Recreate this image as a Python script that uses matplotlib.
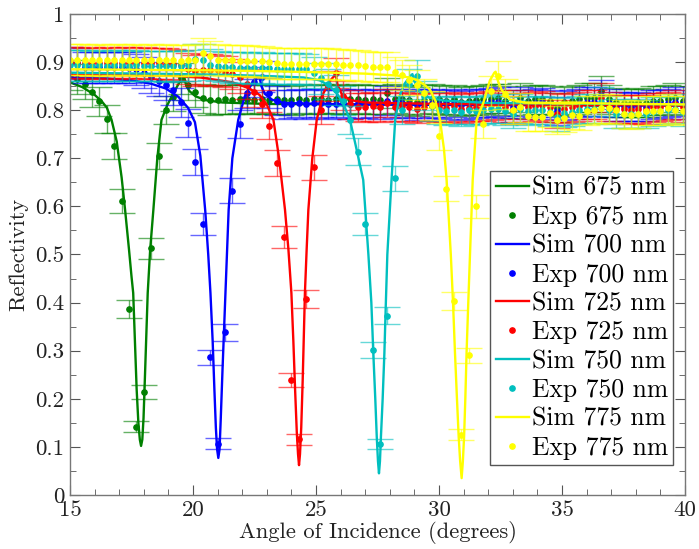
import numpy as np
import matplotlib
matplotlib.use('Agg')
import matplotlib.pyplot as plt
from matplotlib.ticker import MultipleLocator, FuncFormatter

plt.rcParams['font.family'] = 'serif'
plt.rcParams['font.serif'] = ['cmr10']
plt.rcParams['mathtext.fontset'] = 'cm'
plt.rcParams['axes.formatter.use_mathtext'] = True

# Measured angles (deg), one sample every 0.3 deg
angle = np.round(np.arange(15.0, 40.0, 0.3), 1)

wavelengths = [675, 700, 725, 750, 775]
colors = ['#008000', '#0000ff', '#ff0000', '#00bfbf', '#ffff00']

# Experimental reflectivity
exp_675 = [.873, .864, .854, .838, .819, .781, .726, .611, .386, .142, .214, .513,
           .705, .800, .828, .866, .852, .838, .825, .821, .822, .823, .822, .824,
           .823, .822, .824, .822, .823, .822, .821, .824, .822, .823, .824, .822,
           .824, .822, .823, .824, .822, .823, .822, .836, .824, .823, .821, .818,
           .822, .824, .823, .820, .823, .818, .820, .821, .823, .824, .825, .820,
           .813, .826, .820, .823, .823, .820, .805, .818, .820, .823, .826, .826,
           .840, .823, .816, .815, .815, .816, .815, .820, .820, .823, .826, .820]
exp_700 = [.900, .898, .889, .889, .889, .889, .889, .889, .888, .885, .878, .868,
           .861, .852, .842, .816, .774, .693, .563, .286, .107, .338, .633, .771,
           .835, .858, .870, .836, .820, .812, .813, .815, .812, .814, .815, .812,
           .813, .815, .812, .814, .813, .815, .812, .820, .814, .815, .813, .810,
           .814, .815, .813, .812, .815, .810, .812, .814, .815, .816, .818, .813,
           .806, .818, .812, .815, .816, .812, .798, .810, .812, .815, .818, .818,
           .832, .815, .808, .808, .807, .808, .807, .812, .813, .815, .818, .812]
exp_725 = [.899, .899, .898, .899, .898, .899, .898, .899, .899, .898, .899, .898,
           .898, .897, .896, .893, .886, .882, .884, .884, .883, .880, .875, .868,
           .855, .838, .813, .768, .690, .536, .239, .116, .407, .681, .800, .850,
           .877, .830, .812, .807, .806, .808, .806, .815, .807, .808, .806, .803,
           .807, .808, .806, .805, .808, .803, .805, .807, .808, .810, .812, .806,
           .800, .812, .806, .808, .810, .806, .792, .803, .806, .808, .812, .812,
           .826, .808, .802, .802, .801, .802, .801, .806, .807, .809, .812, .806]
exp_750 = [.893, .893, .893, .892, .893, .892, .893, .893, .892, .893, .892, .892,
           .892, .891, .892, .892, .893, .906, .905, .895, .892, .890, .889, .888,
           .888, .887, .888, .887, .886, .886, .886, .886, .885, .878, .866, .855,
           .842, .820, .780, .714, .563, .301, .106, .373, .658, .800, .855, .872,
           .830, .808, .800, .798, .800, .797, .800, .798, .800, .802, .803, .798,
           .792, .803, .798, .800, .800, .797, .785, .795, .797, .800, .803, .803,
           .818, .800, .793, .793, .792, .793, .792, .797, .798, .800, .803, .797]
exp_775 = [.905, .905, .905, .904, .905, .904, .905, .905, .904, .905, .904, .905,
           .904, .905, .904, .903, .904, .905, .918, .912, .905, .904, .904, .903,
           .903, .902, .902, .900, .898, .897, .897, .897, .897, .897, .897, .897,
           .896, .895, .894, .893, .892, .890, .890, .890, .879, .873, .863, .852,
           .835, .810, .746, .637, .403, .125, .290, .600, .771, .840, .871, .834,
           .800, .806, .787, .785, .785, .794, .780, .783, .790, .788, .799, .800,
           .804, .804, .800, .792, .790, .792, .799, .799, .799, .804, .800, .799]

# Simulated curves
sim_675_x = [15.0, 15.5, 16.0, 16.3, 16.5, 16.69, 16.9, 17.1, 17.24, 17.4, 17.5, 17.57,
             17.64, 17.71, 17.78, 17.84, 17.89, 17.94, 17.99, 18.05, 18.16, 18.26, 18.39,
             18.55, 18.72, 18.95, 19.2, 19.45, 19.6, 19.64, 19.72, 19.85, 20.1, 20.5,
             21.2, 23.0, 30.0, 40.0]
sim_675_y = [.858, .848, .832, .818, .805, .78, .735, .66, .593, .51, .455, .42,
             .32, .22, .15, .115, .102, .115, .16, .25, .42, .51, .593,
             .70, .78, .81, .835, .858, .868, .87, .852, .84, .829, .821,
             .816, .813, .811, .81]
sim_700_x = [15.0, 16.5, 17.5, 18.3, 18.9, 19.4, 19.8, 20.08, 20.3, 20.5, 20.62, 20.71,
             20.8, 20.87, 20.93, 20.98, 21.03, 21.08, 21.13, 21.2, 21.32, 21.45, 21.6,
             21.84, 22.1, 22.4, 22.65, 22.7, 22.78, 22.92, 23.2, 23.7, 26.0, 40.0]
sim_700_y = [.868, .866, .862, .855, .845, .828, .805, .775, .705, .59, .50, .42,
             .32, .22, .14, .095, .077, .095, .16, .26, .42, .593, .70,
             .78, .828, .856, .868, .87, .85, .834, .822, .815, .812, .81]
sim_725_x = [15.0, 17.0, 19.0, 20.3, 21.6, 22.3, 22.7, 23.0, 23.27, 23.5, 23.74, 23.88,
             24.0, 24.08, 24.15, 24.22, 24.27, 24.31, 24.35, 24.4, 24.46, 24.55, 24.62,
             24.69, 24.85, 25.03, 25.3, 25.55, 25.76, 25.8, 25.88, 26.05, 26.4, 27.0,
             30.0, 40.0]
sim_725_y = [.873, .873, .872, .868, .858, .845, .832, .812, .78, .70, .593, .51,
             .42, .32, .22, .13, .085, .062, .085, .14, .24, .42, .51,
             .593, .70, .78, .835, .86, .872, .874, .852, .833, .821, .816,
             .813, .81]
sim_750_x = [15.0, 18.0, 21.0, 23.0, 24.5, 25.16, 25.5, 25.84, 26.1, 26.38, 26.6, 26.92,
             27.13, 27.25, 27.33, 27.41, 27.47, 27.52, 27.56, 27.6, 27.64, 27.71, 27.78,
             27.84, 27.9, 28.07, 28.22, 28.4, 28.6, 28.85, 28.92, 29.0, 29.23, 29.6,
             30.2, 32.0, 40.0]
sim_750_y = [.878, .876, .874, .871, .868, .862, .852, .836, .815, .78, .73, .655,
             .50, .40, .295, .20, .121, .07, .045, .07, .121, .20, .295,
             .40, .50, .655, .78, .83, .855, .872, .875, .86, .838, .826,
             .82, .815, .812]
sim_775_x = [15.0, 18.0, 22.0, 25.0, 27.0, 28.3, 28.8, 29.09, 29.4, 29.63, 29.85, 30.04,
             30.2, 30.31, 30.48, 30.57, 30.65, 30.73, 30.8, 30.86, 30.92, 30.97, 31.02,
             31.07, 31.12, 31.19, 31.26, 31.37, 31.53, 31.8, 32.07, 32.25, 32.3, 32.4,
             32.55, 32.89, 33.5, 40.0]
sim_775_y = [.885, .884, .882, .879, .876, .872, .868, .863, .853, .843, .82, .78,
             .72, .655, .50, .40, .295, .20, .121, .07, .035, .07, .121,
             .20, .295, .40, .50, .655, .78, .815, .862, .878, .88, .86,
             .842, .822, .816, .812]

exp_all = [exp_675, exp_700, exp_725, exp_750, exp_775]
sim_all = [(sim_675_x, sim_675_y), (sim_700_x, sim_700_y), (sim_725_x, sim_725_y),
           (sim_750_x, sim_750_y), (sim_775_x, sim_775_y)]

# measurement uncertainty: fixed part plus a part proportional to R
err_fixed = 0.008
err_rel = 0.027

fig = plt.figure(figsize=(6.99, 5.49), dpi=100)
ax = fig.add_axes([0.1001, 0.0984, 0.8799, 0.8761])

for wl, col, (sx, sy), ey in zip(wavelengths, colors, sim_all, exp_all):
    ey = np.array(ey)
    ax.plot(sx, sy, '-', color=col, lw=1.7, label='Sim %d nm' % wl)
    ax.errorbar(angle, ey, yerr=err_fixed + err_rel * ey, fmt='none',
                ecolor=col, elinewidth=1.0, capsize=9.5, capthick=1.0, alpha=0.6)
    ax.plot(angle, ey, 'o', color=col, ms=3.8, mec=col, ls='none',
            label='Exp %d nm' % wl)

ax.set_xlim(15, 40)
ax.set_ylim(0, 1)
ax.xaxis.set_major_locator(MultipleLocator(5))
ax.xaxis.set_minor_locator(MultipleLocator(1))
ax.yaxis.set_major_locator(MultipleLocator(0.1))
ax.yaxis.set_minor_locator(MultipleLocator(0.05))
fmt = FuncFormatter(lambda v, p: '%g' % round(v, 2))
ax.xaxis.set_major_formatter(fmt)
ax.yaxis.set_major_formatter(fmt)
ax.tick_params(which='both', direction='in', top=True, right=True,
               color='#555555', labelsize=16.5, labelcolor='#222222', pad=4)
ax.tick_params(which='major', length=7)
ax.tick_params(which='minor', length=4)
for s in ax.spines.values():
    s.set_color('#777777')
    s.set_linewidth(1.0)

ax.set_xlabel('Angle of Incidence (degrees)', fontsize=16.2, color='#222222', labelpad=1)
ax.set_ylabel('Reflectivity', fontsize=16.2, color='#222222', labelpad=5)

leg = ax.legend(loc='lower right', bbox_to_anchor=(0.9805, 0.0624), borderaxespad=0,
                fontsize=18.5, fancybox=False, framealpha=1, edgecolor='#555555',
                handlelength=1.3, handletextpad=0.1, labelspacing=0.2,
                borderpad=0.2, markerscale=1.0)
leg.get_frame().set_linewidth(1.0)

fig.savefig('out.png', dpi=100)
